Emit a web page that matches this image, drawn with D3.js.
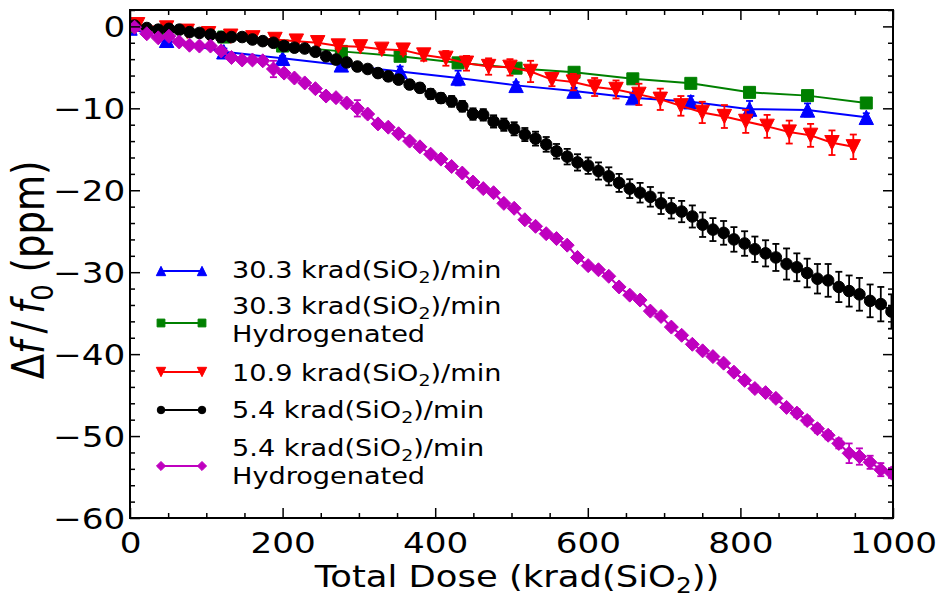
<!DOCTYPE html>
<html><head><meta charset="utf-8">
<script src="https://cdn.jsdelivr.net/npm/d3@7"></script>
<style>body{margin:0;background:#fff}svg{display:block}text{font-family:"DejaVu Sans",sans-serif;fill:#000}</style>
</head><body><svg id="c" width="941" height="597"></svg>
<script>
// ---------- data ----------
const xTicks = [0, 200, 400, 600, 800, 1000];
const xTickLabels = ["0", "200", "400", "600", "800", "1000"];
const yTicks = [0, -10, -20, -30, -40, -50, -60];
const yTickLabels = ["0", "\u221210", "\u221220", "\u221230", "\u221240", "\u221250", "\u221260"];

const seriesNames = ["30.3 krad(SiO_2)/min", "30.3 krad(SiO_2)/min\nHydrogenated", "10.9 krad(SiO_2)/min",
                     "5.4 krad(SiO_2)/min", "5.4 krad(SiO_2)/min\nHydrogenated"];

const doseHigh = [0, 48, 123, 200, 277, 354, 430, 506, 582, 659, 735, 812, 888, 965];
const rate303 = [-0.2, -1.7, -3.1, -3.9, -4.7, -5.5, -6.3, -7.2, -7.9, -8.7, -9.2, -10.1, -10.2, -11.1];
const rate303Err = [0.1, 0.3, 0.4, 0.3, 0.3, 0.6, 0.9, 0.4, 0.4, 0.5, 0.7, 1.0, 0.8, 0.5];
const rate303H = [0, -0.6, -1.3, -2.4, -3.05, -3.65, -4.45, -5.1, -5.6, -6.4, -6.95, -8.05, -8.45, -9.35];
const rate303HErr = [0.1, 0.2, 0.3, 0.3, 0.3, 0.3, 0.3, 0.3, 0.4, 0.4, 0.5, 0.4, 0.5, 0.6];

const doseMid = [10, 48, 75, 103, 132, 161, 190, 218, 246, 273, 302, 330, 358, 385, 414, 441, 470, 498, 525, 553,
                 581, 609, 637, 667, 695, 722, 750, 779, 807, 835, 864, 892, 920, 948];
const rate109 = [0.2, -0.2, -0.6, -0.9, -1.2, -1.4, -1.6, -1.8, -2.0, -2.4, -2.5, -2.8, -2.9, -3.5, -3.9, -4.5, -4.9, -5.0, -5.5, -6.5,
                 -6.8, -7.4, -7.7, -8.3, -8.9, -9.7, -10.5, -11.0, -11.6, -12.2, -12.9, -13.3, -14.2, -14.7];
const rate109Err = [0.1, 0.1, 0.1, 0.2, 0.2, 0.2, 0.2, 0.3, 0.3, 0.3, 0.3, 0.4, 0.5, 0.7, 0.9, 0.9, 1.0, 1.0, 1.3, 0.8,
                    1.0, 1.1, 1.1, 1.3, 1.3, 1.2, 1.3, 1.4, 1.4, 1.4, 1.4, 1.4, 1.5, 1.5];

const doseLow = [6, 22, 37, 51, 64.5, 78, 91, 105.5, 119.5, 133, 147, 160.5, 174, 188, 202, 215.5, 229, 243, 257, 270,
                 284, 298, 311.5, 325, 338.5, 352, 366.5, 380, 394, 407.5, 421.5, 435.5, 449.5, 463, 476.5, 490, 503.5, 517.5, 531.5, 545.5,
                 559, 573, 586.5, 600.5, 614, 627.5, 641, 655, 668.5, 682, 696, 709.5, 723, 737, 750.5, 764, 778, 791.5, 805.5, 819,
                 833, 846.5, 860.5, 874, 887.5, 901, 915, 929, 942.5, 956, 970, 984, 998];
const rate54 = [0.1, -0.2, -0.4, -0.3, -0.4, -0.7, -0.8, -1.0, -1.3, -1.3,
                -1.3, -1.6, -1.8, -2.0, -2.4, -2.6, -2.7, -3.1, -3.65, -4.05,
                -4.4, -4.9, -5.2, -5.7, -6.1, -6.5, -7.1, -7.5, -8.25, -8.75,
                -9.15, -9.75, -10.7, -10.8, -11.6, -12.0, -12.5, -13.2, -13.7, -14.4,
                -15.25, -15.9, -16.6, -17.0, -17.65, -18.3, -19.1, -19.8, -20.3, -20.8,
                -21.6, -22.2, -22.6, -23.2, -24.2, -24.8, -25.2, -26.0, -26.5, -27.2,
                -27.7, -28.2, -29.0, -29.4, -30.1, -30.8, -31.0, -31.8, -32.3, -32.7,
                -33.5, -33.9, -34.8];
const rate54Err = [0.05, 0.1, 0.1, 0.1, 0.15, 0.15, 0.15, 0.2, 0.2, 0.2,
                   0.25, 0.25, 0.25, 0.3, 0.3, 0.3, 0.35, 0.35, 0.4, 0.4,
                   0.4, 0.45, 0.45, 0.5, 0.5, 0.5, 0.55, 0.55, 0.6, 0.6,
                   0.65, 0.65, 0.7, 0.7, 0.75, 0.75, 0.8, 0.8, 0.85, 0.9,
                   0.9, 0.95, 1.0, 1.0, 1.05, 1.1, 1.1, 1.15, 1.2, 1.2,
                   1.3, 1.25, 1.3, 1.35, 1.5, 1.4, 1.45, 1.5, 1.5, 1.55,
                   1.6, 1.65, 1.9, 1.7, 1.75, 1.8, 2.0, 1.85, 1.9, 2.0,
                   2.0, 2.1, 2.1];
const rate54H = [-0.1, -0.9, -1.4, -1.2, -1.9, -2.3, -2.4, -2.4, -3.0, -3.8,
                 -4.1, -4.1, -4.2, -5.2, -5.7, -6.3, -6.9, -7.6, -8.5, -8.7,
                 -9.35, -10.0, -10.7, -11.9, -12.3, -13.1, -14.0, -14.7, -15.6, -16.2,
                 -17.1, -17.9, -19.0, -19.8, -20.3, -21.6, -22.2, -23.6, -24.4, -25.3,
                 -25.9, -26.7, -28.2, -29.2, -29.7, -30.5, -31.8, -32.8, -33.4, -34.75,
                 -35.4, -36.7, -37.7, -38.8, -39.6, -40.3, -41.1, -42.2, -43.2, -44.2,
                 -44.7, -45.4, -46.5, -47.2, -48.1, -49.1, -49.9, -50.9, -52.1, -52.5,
                 -53.2, -54.1, -54.5];
const rate54HErr = [0.1, 0.2, 0.2, 0.3, 0.2, 0.2, 0.3, 0.3, 0.3, 0.3,
                    0.3, 0.3, 0.3, 1.0, 0.4, 0.3, 0.3, 0.3, 0.4, 0.3,
                    0.3, 1.0, 0.4, 0.3, 0.3, 0.3, 0.3, 0.3, 0.3, 0.3,
                    0.3, 0.3, 0.3, 0.3, 0.3, 0.3, 0.3, 0.3, 0.3, 0.3,
                    0.3, 0.3, 0.3, 0.3, 0.3, 0.3, 0.3, 0.3, 0.3, 0.3,
                    0.3, 0.3, 0.3, 0.3, 0.3, 0.3, 0.3, 0.3, 0.4, 0.4,
                    0.4, 0.4, 0.4, 0.5, 0.5, 0.5, 0.5, 0.6, 1.2, 1.0,
                    0.8, 0.8, 0.6];

// ---------- setup ----------
const SX = 1.18; // horizontal stretch of the reference picture
const L = 130, R = 893, T = 10, B = 518;
const svg = d3.select("#c");
const x = d3.scaleLinear().domain([0, 1000]).range([L, R]);
const y = d3.scaleLinear().domain([-60, 2]).range([B, T]);

const series = [
  {name: seriesNames[0], xs: doseHigh, ys: rate303, es: rate303Err, color: "#0000ff", marker: "triUp"},
  {name: seriesNames[1], xs: doseHigh, ys: rate303H, es: rate303HErr, color: "#008000", marker: "square"},
  {name: seriesNames[2], xs: doseMid, ys: rate109, es: rate109Err, color: "#ff0000", marker: "triDown"},
  {name: seriesNames[3], xs: doseLow, ys: rate54, es: rate54Err, color: "#000000", marker: "circle"},
  {name: seriesNames[4], xs: doseLow, ys: rate54H, es: rate54HErr, color: "#bf00bf", marker: "diamond"}
];

const markerSize = {triUp: 7.2, triDown: 7.2, square: 6, circle: 5.8, diamond: 7};
function markerPath(kind, s) {
  switch (kind) {
    case "triUp": return `M0,${-s}L${s},${s}L${-s},${s}Z`;
    case "triDown": return `M0,${s}L${s},${-s}L${-s},${-s}Z`;
    case "square": return `M${-s},${-s}h${2*s}v${2*s}h${-2*s}Z`;
    case "diamond": return `M0,${-s}L${s},0L0,${s}L${-s},0Z`;
    default: return `M${s},0A${s},${s} 0 1,1 ${-s},0A${s},${s} 0 1,1 ${s},0Z`;
  }
}

function addRich(textSel, str, fs) {
  const parts = str.split(/(_\d)/);
  let shifted = false;
  parts.forEach(p => {
    if (!p) return;
    if (p[0] === "_") {
      textSel.append("tspan").attr("font-size", fs * 0.7).attr("dy", fs * 0.2).text(p.slice(1));
      shifted = true;
    } else {
      const t = textSel.append("tspan").text(p);
      if (shifted) { t.attr("dy", -fs * 0.2); shifted = false; }
    }
  });
}

svg.append("defs").append("clipPath").attr("id", "clip")
  .append("rect").attr("x", L).attr("y", T).attr("width", R - L).attr("height", B - T);

// ---------- series ----------
const plot = svg.append("g").attr("clip-path", "url(#clip)");
series.forEach(s => {
  const pts = s.xs.map((d, i) => ({x: d, y: s.ys[i], e: s.es[i]}));
  const g = plot.append("g");
  const eb = g.append("g").attr("stroke", s.color).attr("stroke-width", 1.8).attr("fill", "none");
  pts.forEach(p => {
    const px = x(p.x), y1 = y(p.y + p.e), y2 = y(p.y - p.e);
    eb.append("line").attr("x1", px).attr("x2", px).attr("y1", y1).attr("y2", y2);
    eb.append("line").attr("x1", px - 3.5).attr("x2", px + 3.5).attr("y1", y1).attr("y2", y1);
    eb.append("line").attr("x1", px - 3.5).attr("x2", px + 3.5).attr("y1", y2).attr("y2", y2);
  });
  g.append("path").datum(pts)
    .attr("fill", "none").attr("stroke", s.color).attr("stroke-width", 2)
    .attr("d", d3.line().x(d => x(d.x)).y(d => y(d.y)));
  g.selectAll(".m").data(pts).join("path")
    .attr("transform", d => `translate(${x(d.x)},${y(d.y)})`)
    .attr("d", markerPath(s.marker, markerSize[s.marker]))
    .attr("fill", s.color).attr("stroke", s.color).attr("stroke-width", 1);
});

// ---------- axes ----------
const xMinor = d3.range(0, 1001, 50).filter(v => !xTicks.includes(v));
const yMinor = d3.range(-60, 3, 2).filter(v => !yTicks.includes(v));

function styleAxis(g) {
  g.select(".domain").remove();
  g.selectAll("line").attr("stroke", "#000").attr("stroke-width", 1.5);
}
const gb = svg.append("g").attr("transform", `translate(0,${B})`)
  .call(d3.axisBottom(x).tickValues(xTicks).tickFormat((d, i) => xTickLabels[i]).tickSize(-10).tickSizeOuter(0).tickPadding(0));
gb.selectAll("text").attr("font-size", 29).attr("y", 35).attr("dy", 0).attr("transform", `scale(${SX},1)`);
styleAxis(gb);
svg.append("g").attr("transform", `translate(0,${B})`)
  .call(d3.axisBottom(x).tickValues(xMinor).tickFormat("").tickSize(-5).tickSizeOuter(0)).call(styleAxis);
svg.append("g").attr("transform", `translate(0,${T})`)
  .call(d3.axisTop(x).tickValues(xTicks).tickFormat("").tickSize(-10).tickSizeOuter(0)).call(styleAxis);
svg.append("g").attr("transform", `translate(0,${T})`)
  .call(d3.axisTop(x).tickValues(xMinor).tickFormat("").tickSize(-5).tickSizeOuter(0)).call(styleAxis);
const gl = svg.append("g").attr("transform", `translate(${L},0)`)
  .call(d3.axisLeft(y).tickValues(yTicks).tickFormat((d, i) => yTickLabels[i]).tickSize(-10).tickSizeOuter(0).tickPadding(0));
gl.selectAll("text").attr("font-size", 29).attr("x", -4).attr("dy", "0.36em").attr("transform", `scale(${SX},1)`);
styleAxis(gl);
svg.append("g").attr("transform", `translate(${L},0)`)
  .call(d3.axisLeft(y).tickValues(yMinor).tickFormat("").tickSize(-5).tickSizeOuter(0)).call(styleAxis);
svg.append("g").attr("transform", `translate(${R},0)`)
  .call(d3.axisRight(y).tickValues(yTicks).tickFormat("").tickSize(-10).tickSizeOuter(0)).call(styleAxis);
svg.append("g").attr("transform", `translate(${R},0)`)
  .call(d3.axisRight(y).tickValues(yMinor).tickFormat("").tickSize(-5).tickSizeOuter(0)).call(styleAxis);

svg.append("rect").attr("x", L).attr("y", T).attr("width", R - L).attr("height", B - T)
  .attr("fill", "none").attr("stroke", "#000").attr("stroke-width", 2);

// ---------- axis titles ----------
const xt = svg.append("text").attr("transform", `translate(517,587) scale(${SX},1)`)
  .attr("text-anchor", "middle").attr("font-size", 30);
addRich(xt, "Total Dose (krad(SiO_2))", 30);

const yfs = 37;
const yt = svg.append("text").attr("transform", `translate(44,270) scale(${SX},1) rotate(-90)`)
  .attr("text-anchor", "middle").attr("font-size", yfs);
yt.append("tspan").text("\u0394");
yt.append("tspan").attr("font-style", "italic").text("f");
yt.append("tspan").text("\u2009/\u2009");
yt.append("tspan").attr("font-style", "italic").text("f");
yt.append("tspan").attr("font-size", yfs * 0.7).attr("dy", yfs * 0.2).text("0");
yt.append("tspan").attr("dy", -yfs * 0.2).text(" (ppm)");

// ---------- legend ----------
const lfs = 23;
const legRows = [
  {my: 271, lines: [278]},
  {my: 323, lines: [314, 342]},
  {my: 372, lines: [381]},
  {my: 410, lines: [418]},
  {my: 466, lines: [456, 484]}
];
const leg = svg.append("g");
series.forEach((s, i) => {
  const r = legRows[i];
  leg.append("line").attr("x1", 161).attr("x2", 202).attr("y1", r.my).attr("y2", r.my)
    .attr("stroke", s.color).attr("stroke-width", 2);
  [161, 202].forEach(mx => {
    leg.append("path").attr("transform", `translate(${mx},${r.my})`)
      .attr("d", markerPath(s.marker, markerSize[s.marker] * 0.65))
      .attr("fill", s.color).attr("stroke", s.color).attr("stroke-width", 1);
  });
  s.name.split("\n").forEach((ln, j) => {
    const t = leg.append("text").attr("transform", `translate(232,${r.lines[j]}) scale(${SX},1)`)
      .attr("font-size", lfs);
    addRich(t, ln, lfs);
  });
});
</script></body></html>
